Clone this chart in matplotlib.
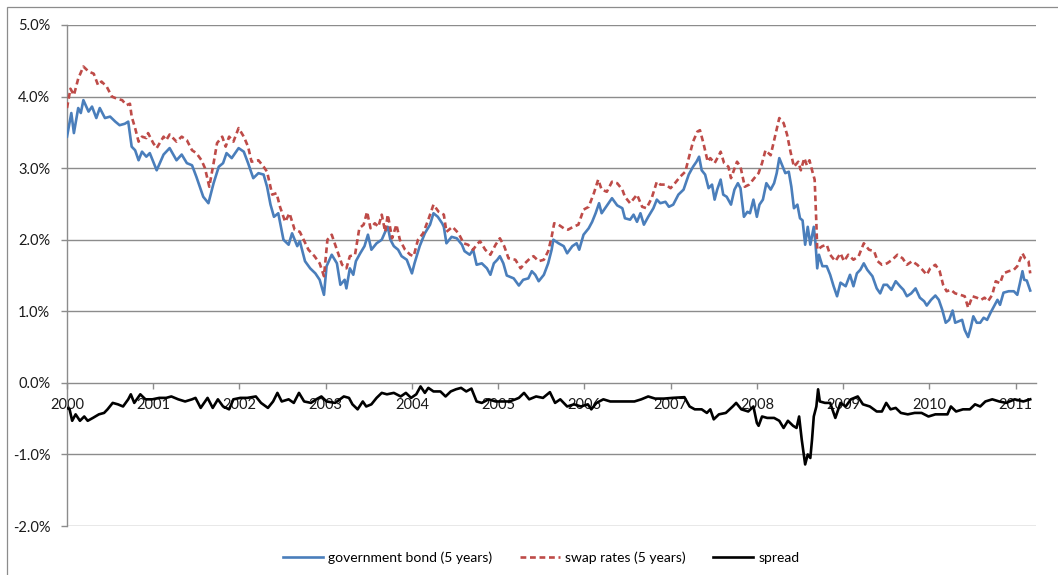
import numpy as np
import matplotlib.pyplot as plt
from matplotlib.patches import Rectangle
from matplotlib.ticker import FuncFormatter

plt.rcParams['font.family'] = ['Lato', 'DejaVu Sans']

# government bond yield (5 years), in % (time in fractional years)
t_gov = [2000.00, 2000.05, 2000.08, 2000.13, 2000.16, 2000.19, 2000.25, 2000.29, 2000.34, 2000.38,
         2000.44, 2000.50, 2000.56, 2000.61, 2000.67, 2000.71, 2000.75, 2000.79, 2000.83, 2000.87,
         2000.92, 2000.96, 2001.04, 2001.12, 2001.19, 2001.27, 2001.33, 2001.39, 2001.45, 2001.50,
         2001.54, 2001.58, 2001.64, 2001.70, 2001.76, 2001.81, 2001.85, 2001.91, 2001.99, 2002.05,
         2002.10, 2002.16, 2002.22, 2002.28, 2002.32, 2002.36, 2002.40, 2002.45, 2002.51, 2002.57,
         2002.61, 2002.67, 2002.70, 2002.76, 2002.82, 2002.88, 2002.93, 2002.98, 2003.01, 2003.07,
         2003.13, 2003.17, 2003.22, 2003.24, 2003.28, 2003.32, 2003.35, 2003.40, 2003.45, 2003.49,
         2003.53, 2003.59, 2003.65, 2003.69, 2003.72, 2003.75, 2003.79, 2003.84, 2003.88, 2003.94,
         2004.00, 2004.03, 2004.09, 2004.15, 2004.21, 2004.25, 2004.30, 2004.35, 2004.37, 2004.40,
         2004.46, 2004.52, 2004.58, 2004.61, 2004.67, 2004.71, 2004.75, 2004.81, 2004.87, 2004.91,
         2004.95, 2004.99, 2005.02, 2005.06, 2005.10, 2005.18, 2005.24, 2005.29, 2005.35, 2005.39,
         2005.43, 2005.47, 2005.53, 2005.58, 2005.62, 2005.64, 2005.70, 2005.76, 2005.80, 2005.86,
         2005.91, 2005.94, 2005.99, 2006.05, 2006.09, 2006.13, 2006.17, 2006.20, 2006.24, 2006.28,
         2006.32, 2006.38, 2006.44, 2006.47, 2006.53, 2006.57, 2006.61, 2006.65, 2006.69, 2006.74,
         2006.80, 2006.84, 2006.88, 2006.94, 2006.98, 2007.03, 2007.09, 2007.15, 2007.21, 2007.26,
         2007.30, 2007.33, 2007.36, 2007.40, 2007.44, 2007.48, 2007.51, 2007.54, 2007.58, 2007.61,
         2007.65, 2007.70, 2007.74, 2007.78, 2007.81, 2007.85, 2007.89, 2007.92, 2007.96, 2008.00,
         2008.03, 2008.07, 2008.11, 2008.16, 2008.20, 2008.23, 2008.26, 2008.29, 2008.33, 2008.37,
         2008.40, 2008.43, 2008.47, 2008.50, 2008.53, 2008.56, 2008.59, 2008.62, 2008.66, 2008.68,
         2008.70, 2008.72, 2008.76, 2008.81, 2008.85, 2008.89, 2008.93, 2008.97, 2009.03, 2009.08,
         2009.12, 2009.16, 2009.20, 2009.24, 2009.28, 2009.34, 2009.39, 2009.43, 2009.47, 2009.51,
         2009.56, 2009.61, 2009.66, 2009.70, 2009.74, 2009.79, 2009.84, 2009.89, 2009.94, 2009.97,
         2010.02, 2010.07, 2010.11, 2010.15, 2010.19, 2010.23, 2010.27, 2010.30, 2010.34, 2010.38,
         2010.41, 2010.45, 2010.48, 2010.51, 2010.55, 2010.59, 2010.63, 2010.67, 2010.71, 2010.75,
         2010.79, 2010.82, 2010.86, 2010.92, 2010.98, 2011.02, 2011.05, 2011.08, 2011.10, 2011.13,
         2011.17]
gov = [3.44, 3.77, 3.49, 3.84, 3.77, 3.95, 3.79, 3.86, 3.70, 3.84,
       3.70, 3.72, 3.65, 3.60, 3.62, 3.65, 3.30, 3.25, 3.11, 3.23,
       3.16, 3.21, 2.97, 3.19, 3.28, 3.11, 3.19, 3.07, 3.04, 2.88,
       2.74, 2.60, 2.51, 2.79, 3.02, 3.07, 3.21, 3.14, 3.28, 3.23,
       3.07, 2.86, 2.93, 2.91, 2.74, 2.49, 2.32, 2.37, 2.00, 1.93,
       2.09, 1.91, 1.98, 1.70, 1.60, 1.53, 1.44, 1.23, 1.63, 1.79,
       1.67, 1.37, 1.44, 1.32, 1.60, 1.51, 1.70, 1.81, 1.91, 2.07,
       1.86, 1.95, 2.00, 2.11, 2.18, 2.00, 1.91, 1.86, 1.77, 1.72,
       1.53, 1.67, 1.91, 2.09, 2.21, 2.37, 2.32, 2.23, 2.18, 1.95,
       2.04, 2.02, 1.93, 1.84, 1.79, 1.86, 1.65, 1.67, 1.60, 1.51,
       1.67, 1.72, 1.77, 1.67, 1.50, 1.46, 1.36, 1.44, 1.46, 1.56,
       1.51, 1.42, 1.51, 1.67, 1.86, 2.00, 1.95, 1.91, 1.81, 1.91,
       1.95, 1.86, 2.07, 2.16, 2.25, 2.37, 2.51, 2.37, 2.44, 2.51,
       2.58, 2.48, 2.44, 2.30, 2.28, 2.35, 2.25, 2.37, 2.21, 2.32,
       2.44, 2.56, 2.51, 2.53, 2.46, 2.49, 2.63, 2.70, 2.91, 3.02,
       3.09, 3.16, 2.97, 2.91, 2.72, 2.77, 2.56, 2.70, 2.84, 2.63,
       2.60, 2.49, 2.70, 2.79, 2.72, 2.32, 2.39, 2.37, 2.56, 2.32,
       2.49, 2.56, 2.79, 2.70, 2.79, 2.93, 3.14, 3.05, 2.93, 2.95,
       2.74, 2.44, 2.49, 2.30, 2.27, 1.93, 2.18, 1.93, 2.18, 1.95,
       1.60, 1.79, 1.63, 1.63, 1.51, 1.35, 1.21, 1.40, 1.35, 1.51,
       1.35, 1.53, 1.58, 1.67, 1.58, 1.49, 1.32, 1.25, 1.37, 1.37,
       1.30, 1.42, 1.35, 1.30, 1.21, 1.25, 1.32, 1.19, 1.14, 1.08,
       1.16, 1.22, 1.16, 1.02, 0.84, 0.88, 1.01, 0.84, 0.86, 0.88,
       0.74, 0.64, 0.77, 0.93, 0.84, 0.84, 0.91, 0.88, 0.98, 1.07,
       1.16, 1.09, 1.26, 1.28, 1.28, 1.23, 1.39, 1.56, 1.44, 1.43,
       1.29]

# swap rates (5 years), in %
t_swap = [2000.00, 2000.04, 2000.08, 2000.13, 2000.19, 2000.25, 2000.31, 2000.36, 2000.40, 2000.46,
          2000.52, 2000.58, 2000.64, 2000.69, 2000.73, 2000.75, 2000.79, 2000.83, 2000.87, 2000.92,
          2000.94, 2001.00, 2001.04, 2001.12, 2001.15, 2001.19, 2001.27, 2001.33, 2001.39, 2001.45,
          2001.50, 2001.56, 2001.60, 2001.65, 2001.70, 2001.74, 2001.80, 2001.84, 2001.88, 2001.93,
          2001.99, 2002.05, 2002.10, 2002.14, 2002.22, 2002.28, 2002.32, 2002.38, 2002.43, 2002.47,
          2002.53, 2002.58, 2002.64, 2002.70, 2002.80, 2002.87, 2002.93, 2002.98, 2003.02, 2003.07,
          2003.13, 2003.19, 2003.24, 2003.28, 2003.34, 2003.39, 2003.44, 2003.48, 2003.52, 2003.57,
          2003.61, 2003.65, 2003.69, 2003.72, 2003.77, 2003.82, 2003.86, 2003.92, 2003.98, 2004.02,
          2004.07, 2004.13, 2004.19, 2004.25, 2004.31, 2004.37, 2004.40, 2004.47, 2004.54, 2004.60,
          2004.65, 2004.71, 2004.75, 2004.79, 2004.85, 2004.91, 2004.97, 2005.02, 2005.07, 2005.12,
          2005.20, 2005.26, 2005.31, 2005.37, 2005.41, 2005.47, 2005.53, 2005.58, 2005.62, 2005.65,
          2005.70, 2005.76, 2005.81, 2005.87, 2005.93, 2005.99, 2006.05, 2006.11, 2006.16, 2006.20,
          2006.26, 2006.32, 2006.38, 2006.44, 2006.47, 2006.53, 2006.61, 2006.67, 2006.72, 2006.78,
          2006.84, 2006.88, 2006.94, 2007.00, 2007.05, 2007.11, 2007.17, 2007.21, 2007.26, 2007.31,
          2007.34, 2007.38, 2007.43, 2007.46, 2007.51, 2007.56, 2007.58, 2007.62, 2007.67, 2007.70,
          2007.77, 2007.81, 2007.86, 2007.91, 2007.97, 2008.02, 2008.06, 2008.10, 2008.16, 2008.21,
          2008.26, 2008.31, 2008.35, 2008.39, 2008.43, 2008.48, 2008.51, 2008.55, 2008.58, 2008.61,
          2008.64, 2008.67, 2008.69, 2008.70, 2008.76, 2008.81, 2008.85, 2008.91, 2008.97, 2009.01,
          2009.06, 2009.12, 2009.18, 2009.24, 2009.30, 2009.36, 2009.40, 2009.45, 2009.51, 2009.57,
          2009.63, 2009.69, 2009.74, 2009.80, 2009.86, 2009.92, 2009.97, 2010.01, 2010.07, 2010.12,
          2010.16, 2010.20, 2010.25, 2010.30, 2010.36, 2010.41, 2010.45, 2010.50, 2010.55, 2010.60,
          2010.64, 2010.68, 2010.73, 2010.77, 2010.82, 2010.86, 2010.92, 2010.98, 2011.02, 2011.05,
          2011.08, 2011.11, 2011.15, 2011.17]
swap = [3.84, 4.11, 4.02, 4.25, 4.42, 4.35, 4.32, 4.16, 4.21, 4.14,
        4.00, 3.97, 3.95, 3.88, 3.90, 3.72, 3.56, 3.37, 3.44, 3.42,
        3.49, 3.35, 3.28, 3.44, 3.39, 3.47, 3.37, 3.44, 3.39, 3.25,
        3.21, 3.11, 3.00, 2.74, 3.07, 3.35, 3.44, 3.30, 3.44, 3.37,
        3.56, 3.44, 3.30, 3.09, 3.11, 3.02, 2.95, 2.63, 2.65, 2.46,
        2.25, 2.37, 2.14, 2.11, 1.86, 1.77, 1.67, 1.49, 2.00, 2.07,
        1.86, 1.65, 1.60, 1.77, 1.79, 2.16, 2.21, 2.39, 2.16, 2.23,
        2.18, 2.35, 2.11, 2.35, 2.02, 2.21, 2.00, 1.86, 1.79, 1.77,
        2.00, 2.09, 2.28, 2.49, 2.39, 2.35, 2.11, 2.18, 2.09, 1.95,
        1.93, 1.86, 1.93, 1.98, 1.86, 1.79, 1.93, 2.02, 1.91, 1.74,
        1.72, 1.60, 1.67, 1.74, 1.77, 1.70, 1.72, 1.84, 2.04, 2.23,
        2.21, 2.16, 2.14, 2.18, 2.21, 2.42, 2.46, 2.65, 2.84, 2.70,
        2.67, 2.81, 2.79, 2.70, 2.60, 2.51, 2.63, 2.46, 2.44, 2.58,
        2.81, 2.77, 2.77, 2.72, 2.79, 2.88, 2.95, 3.14, 3.37, 3.51,
        3.53, 3.35, 3.09, 3.14, 3.07, 3.18, 3.23, 3.07, 3.02, 2.86,
        3.09, 3.02, 2.74, 2.77, 2.86, 2.93, 3.07, 3.25, 3.18, 3.44,
        3.70, 3.63, 3.47, 3.23, 3.02, 3.09, 2.97, 3.14, 3.04, 3.11,
        2.97, 2.84, 2.23, 1.86, 1.91, 1.93, 1.79, 1.70, 1.81, 1.70,
        1.79, 1.72, 1.77, 1.95, 1.86, 1.84, 1.70, 1.65, 1.67, 1.72,
        1.79, 1.74, 1.65, 1.70, 1.65, 1.58, 1.51, 1.60, 1.65, 1.56,
        1.37, 1.28, 1.30, 1.25, 1.23, 1.21, 1.05, 1.21, 1.19, 1.16,
        1.19, 1.14, 1.23, 1.42, 1.39, 1.53, 1.56, 1.58, 1.63, 1.72,
        1.81, 1.74, 1.70, 1.53]

# spread (government bond minus swap), in %
t_spread = [2000.00, 2000.03, 2000.06, 2000.10, 2000.15, 2000.20, 2000.24, 2000.30, 2000.37, 2000.43,
            2000.47, 2000.53, 2000.59, 2000.65, 2000.71, 2000.74, 2000.78, 2000.85, 2000.91, 2000.99,
            2001.07, 2001.15, 2001.21, 2001.29, 2001.37, 2001.45, 2001.49, 2001.55, 2001.63, 2001.69,
            2001.75, 2001.81, 2001.88, 2001.93, 2002.01, 2002.09, 2002.19, 2002.25, 2002.33, 2002.39,
            2002.44, 2002.49, 2002.57, 2002.63, 2002.69, 2002.75, 2002.83, 2002.89, 2002.95, 2003.01,
            2003.11, 2003.21, 2003.27, 2003.31, 2003.37, 2003.43, 2003.47, 2003.53, 2003.59, 2003.65,
            2003.71, 2003.79, 2003.87, 2003.93, 2003.99, 2004.05, 2004.10, 2004.15, 2004.19, 2004.25,
            2004.33, 2004.39, 2004.45, 2004.51, 2004.57, 2004.63, 2004.69, 2004.75, 2004.81, 2004.89,
            2004.97, 2005.05, 2005.13, 2005.20, 2005.24, 2005.30, 2005.36, 2005.44, 2005.52, 2005.60,
            2005.66, 2005.72, 2005.80, 2005.88, 2005.96, 2006.04, 2006.08, 2006.14, 2006.22, 2006.30,
            2006.40, 2006.48, 2006.58, 2006.66, 2006.74, 2006.82, 2006.92, 2007.02, 2007.16, 2007.22,
            2007.28, 2007.36, 2007.42, 2007.46, 2007.50, 2007.56, 2007.64, 2007.72, 2007.76, 2007.82,
            2007.90, 2007.96, 2008.00, 2008.02, 2008.06, 2008.12, 2008.20, 2008.26, 2008.31, 2008.36,
            2008.42, 2008.46, 2008.49, 2008.52, 2008.56, 2008.59, 2008.62, 2008.64, 2008.66, 2008.69,
            2008.71, 2008.73, 2008.79, 2008.85, 2008.91, 2008.97, 2009.03, 2009.09, 2009.17, 2009.23,
            2009.31, 2009.39, 2009.45, 2009.50, 2009.55, 2009.61, 2009.67, 2009.75, 2009.83, 2009.91,
            2009.99, 2010.07, 2010.15, 2010.21, 2010.25, 2010.31, 2010.39, 2010.47, 2010.53, 2010.59,
            2010.65, 2010.73, 2010.81, 2010.89, 2010.99, 2011.09, 2011.17]
spread = [-0.35, -0.37, -0.53, -0.44, -0.53, -0.47, -0.53, -0.49, -0.44, -0.42,
          -0.37, -0.28, -0.30, -0.33, -0.23, -0.16, -0.28, -0.16, -0.23, -0.23,
          -0.21, -0.21, -0.19, -0.23, -0.26, -0.23, -0.21, -0.35, -0.21, -0.35,
          -0.23, -0.33, -0.37, -0.23, -0.21, -0.21, -0.19, -0.28, -0.35, -0.26,
          -0.14, -0.26, -0.23, -0.28, -0.14, -0.26, -0.28, -0.23, -0.19, -0.26,
          -0.28, -0.19, -0.21, -0.30, -0.37, -0.26, -0.33, -0.30, -0.21, -0.14,
          -0.16, -0.14, -0.19, -0.14, -0.21, -0.16, -0.05, -0.14, -0.07, -0.12,
          -0.12, -0.19, -0.12, -0.09, -0.07, -0.12, -0.08, -0.26, -0.28, -0.23,
          -0.26, -0.26, -0.26, -0.23, -0.21, -0.14, -0.23, -0.19, -0.21, -0.13,
          -0.28, -0.23, -0.33, -0.30, -0.33, -0.30, -0.37, -0.28, -0.23, -0.26,
          -0.26, -0.26, -0.26, -0.23, -0.19, -0.22, -0.22, -0.21, -0.20, -0.33,
          -0.37, -0.37, -0.42, -0.37, -0.51, -0.44, -0.42, -0.33, -0.28, -0.37,
          -0.40, -0.33, -0.56, -0.60, -0.47, -0.49, -0.49, -0.53, -0.63, -0.53,
          -0.60, -0.63, -0.47, -0.79, -1.14, -1.00, -1.05, -0.79, -0.47, -0.33,
          -0.09, -0.26, -0.28, -0.28, -0.49, -0.28, -0.33, -0.23, -0.19, -0.30,
          -0.33, -0.40, -0.40, -0.28, -0.37, -0.35, -0.42, -0.44, -0.42, -0.42,
          -0.47, -0.44, -0.44, -0.44, -0.33, -0.40, -0.37, -0.37, -0.30, -0.33,
          -0.26, -0.23, -0.26, -0.28, -0.23, -0.26, -0.23]

years = list(range(2000, 2012))

fig = plt.figure(figsize=(10.58, 5.75), dpi=100)
ax = fig.add_axes([67 / 1058, 1 - 526 / 575, (1036 - 67) / 1058, (526 - 25) / 575])

# chart area frame (top and left edges visible)
fig.patches.append(Rectangle((7 / 1058, -0.1), 1.2, 0.9878 + 0.1, transform=fig.transFigure,
                             fill=False, edgecolor='#8c8c8c', linewidth=0.9))

grid_c = '#8c8c8c'
for v in [5, 4, 3, 2, 1, -1, -2]:
    ax.axhline(v, color=grid_c, linewidth=1.0, zorder=1)

ax.plot(t_gov, gov, color='#4a7ebb', linewidth=1.9, label='government bond (5 years)', zorder=3)
ax.plot(t_swap, swap, color='#be4b48', linewidth=1.9, linestyle=(0, (2.2, 1.4)),
        label='swap rates (5 years)', zorder=3)
ax.plot(t_spread, spread, color='black', linewidth=1.9, label='spread', zorder=3)

ax.set_xlim(2000, 2011.237)
ax.set_ylim(-2, 5)

for s in ['top', 'right']:
    ax.spines[s].set_visible(False)
ax.spines['left'].set_color(grid_c)
ax.spines['bottom'].set_color(grid_c)
ax.spines['bottom'].set_position(('data', 0))
ax.spines['left'].set_linewidth(1.0)
ax.spines['bottom'].set_linewidth(1.0)

ax.set_xticks(years)
ax.set_xticklabels([str(y) for y in years])
ax.set_yticks([-2, -1, 0, 1, 2, 3, 4, 5])
ax.yaxis.set_major_formatter(FuncFormatter(lambda v, p: f'{v:.1f}%'))
ax.tick_params(axis='x', direction='out', length=4, width=1.0, color=grid_c,
               labelsize=10.5, pad=7, labelcolor='#1a1a1a')
ax.tick_params(axis='y', direction='out', length=4, width=1.0, color=grid_c,
               labelsize=10.5, pad=8, labelcolor='#1a1a1a')
for lab in ax.get_xticklabels():
    lab.set_zorder(5)

fig.legend(loc='center', bbox_to_anchor=(541 / 1058, 1 - 558 / 575), ncol=3, frameon=False,
           fontsize=10, handlelength=2.9, handletextpad=0.35, columnspacing=2.0)

fig.savefig('out.png', dpi=100)
